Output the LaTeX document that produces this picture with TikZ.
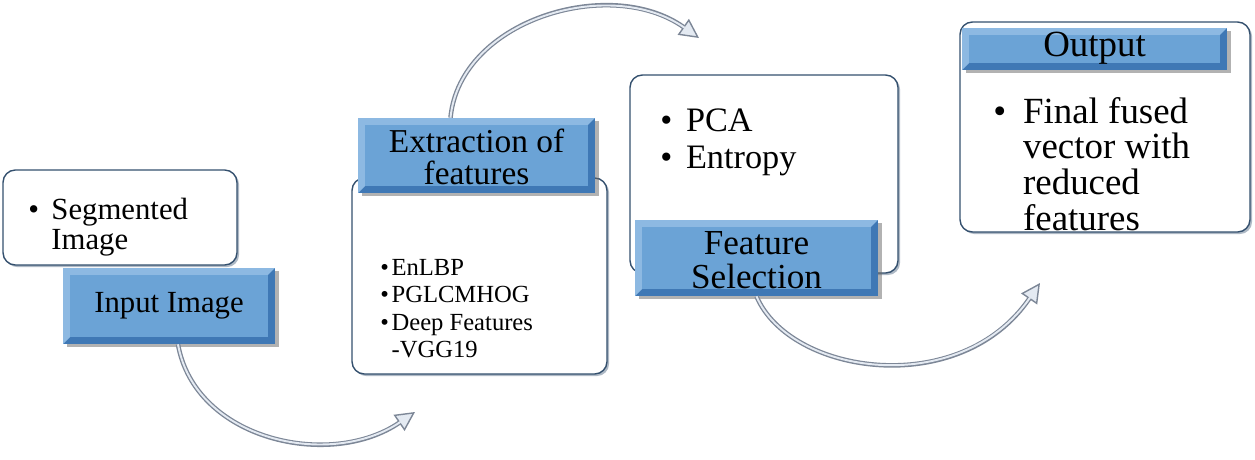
\documentclass[tikz,border=0pt]{standalone}
\usepackage{fontspec}
\usepackage{graphicx}
\setmainfont{Liberation Serif}
\usetikzlibrary{arrows.meta,shadows}

\definecolor{bevmid}{HTML}{3F78B5}
\definecolor{bevlight}{HTML}{8DB9E2}
\definecolor{bevface}{HTML}{6BA3D6}
\definecolor{boxedge}{HTML}{34506E}
\definecolor{arrowedge}{HTML}{7D8797}
\definecolor{arrowfill}{HTML}{E4EAF2}

% big text: set at 17.5pt and scaled up
\newcommand{\bigtxt}[2]{\scalebox{#1}{\begin{tabular}{@{}c@{}}#2\end{tabular}}}

\tikzset{
 whitebox/.style={rectangle,rounded corners=7pt,draw=boxedge,line width=0.8pt,fill=white,
   drop shadow={shadow xshift=1.2pt,shadow yshift=-1.2pt,fill=boxedge!80}},
 bevelbox/.style={rectangle,inner sep=0pt,align=center,fill=bevmid,
   drop shadow={shadow xshift=2.5pt,shadow yshift=-1.5pt,fill=black!60},
   path picture={
    \fill[bevlight] (path picture bounding box.north west) -- (path picture bounding box.north east)
      -- ([shift={(-4pt,-4pt)}]path picture bounding box.north east) -- ([shift={(4pt,-4pt)}]path picture bounding box.north west)
      -- ([shift={(4pt,4pt)}]path picture bounding box.south west) -- (path picture bounding box.south west) -- cycle;
    \fill[bevface] ([shift={(4pt,4pt)}]path picture bounding box.south west) rectangle ([shift={(-4pt,-4pt)}]path picture bounding box.north east);
   }},
 listtext/.style={anchor=west,inner sep=0pt},
 flowarrow/.style={draw=arrowedge,line width=2.6pt,-{Triangle[length=11pt,width=11pt,fill=arrowfill,line width=0.8pt]}},
 flowshine/.style={draw=arrowfill,line width=1.1pt,shorten >=10pt}
}

\begin{document}
\begin{tikzpicture}[x=0.02cm,y=-0.02cm]
\useasboundingbox (0,0) rectangle (1255,460);
% input
\node[whitebox,minimum width=4.68cm,minimum height=1.9cm] (seg) at (120,217.5) {};
\node[listtext,font=\fontsize{17.5}{17}\selectfont] (segtxt) at (28,228)
  {\begin{tabular}{@{}l@{\hspace{7pt}}l@{}}\textbullet&Segmented\\&Image\end{tabular}};
\node[bevelbox,minimum width=4.24cm,minimum height=1.52cm,font=\fontsize{17.5}{17}\selectfont] (inp) at (169,306) {Input Image};
% extraction
\node[whitebox,minimum width=5.1cm,minimum height=3.92cm] (ext) at (479.5,276) {};
\node[bevelbox,minimum width=4.74cm,minimum height=1.5cm,text height=16pt,text depth=0pt,font=\fontsize{17.5}{15.6}\selectfont] (exthd) at (476.5,155.5)
  {\bigtxt{1.086}{Extraction of\\features}};
\node[listtext,font=\fontsize{14}{15.5}\selectfont] (exttxt) at (380,311)
  {\begin{tabular}{@{}l@{\hspace{1.5pt}}l@{}}\textbullet&EnLBP\\\textbullet&PGLCMHOG\\\textbullet&Deep Features\\&-VGG19\end{tabular}};
% selection
\node[whitebox,minimum width=5.36cm,minimum height=3.96cm] (fs) at (764,174) {};
\node[listtext,font=\fontsize{17.5}{18.8}\selectfont] (fstxt) at (660,142.5)
  {\scalebox{1.114}{\begin{tabular}{@{}l@{\hspace{7pt}}l@{}}\textbullet&PCA\\\textbullet&Entropy\end{tabular}}};
\node[bevelbox,minimum width=4.86cm,minimum height=1.52cm,text height=18pt,text depth=0pt,font=\fontsize{17.5}{16.4}\selectfont] (fshd) at (756.5,258)
  {\bigtxt{1.143}{Feature\\Selection}};
% output
\node[whitebox,minimum width=5.8cm,minimum height=4.2cm] (out) at (1105,127) {};
\node[bevelbox,minimum width=5.3cm,minimum height=0.84cm,font=\fontsize{17.5}{15}\selectfont] (outhd) at (1094.5,49)
  {\bigtxt{1.2}{Output}};
\node[listtext,font=\fontsize{17.5}{16.1}\selectfont] (outtxt) at (993,169)
  {\scalebox{1.2}{\begin{tabular}{@{}l@{\hspace{8pt}}l@{}}\textbullet&Final fused\\&vector with\\&reduced\\&features\end{tabular}}};

\coordinate (tip1) at (415,412);
\coordinate (tip2) at (699,38);
\coordinate (tip3) at (1040,283);
\draw[flowarrow] ([xshift=0.18cm]inp.south) .. controls (195,440) and (330,470) .. (tip1);
\draw[flowshine] ([xshift=0.18cm]inp.south) .. controls (195,440) and (330,470) .. (tip1);
\draw[flowarrow] ([xshift=-0.52cm]exthd.north) .. controls (460,20) and (610,-25) .. (tip2);
\draw[flowshine] ([xshift=-0.52cm]exthd.north) .. controls (460,20) and (610,-25) .. (tip2);
\draw[flowarrow] (fshd.south) .. controls (790,375) and (960,400) .. (tip3);
\draw[flowshine] (fshd.south) .. controls (790,375) and (960,400) .. (tip3);
\end{tikzpicture}
\end{document}
